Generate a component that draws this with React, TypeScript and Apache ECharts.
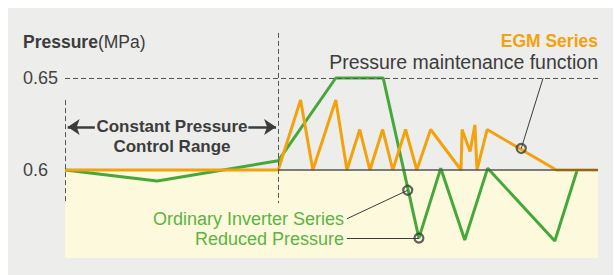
import React, { useEffect, useRef } from "react";
import * as echarts from "echarts";

// Time axis (arbitrary units 0..100) and pressure (MPa)
const egmTime = [0, 40, 44.2, 46.5, 50.8, 52.9, 55.3, 57.2, 59.6, 61.5, 63.9, 66.0, 68.6, 74.3, 74.5, 76.0, 76.9, 77.3, 79.2, 92.2, 100];
const egmPressure = [0.6, 0.6, 0.638, 0.6, 0.638, 0.6, 0.622, 0.6, 0.622, 0.6, 0.622, 0.6, 0.622, 0.6, 0.622, 0.61, 0.6245, 0.6, 0.622, 0.6, 0.6];
const invTime = [0, 17.3, 40, 50.8, 59.7, 66.4, 70.5, 75.0, 79.3, 91.9, 96.1];
const invPressure = [0.6, 0.594, 0.605, 0.65, 0.65, 0.563, 0.601, 0.562, 0.601, 0.5614, 0.6];
const yTickLabels = ["0.6", "0.65"];
const setPressure = 0.6;
const upperPressure = 0.65;
const rangeStart = 0;
const rangeEnd = 40;
const arrowLevel = 0.6234;
const zoneBottom = 0.5522;
const invMarkers = [[64.3, 0.589], [66.4, 0.563]];
const egmMarkers = [[85.6, 0.6117]];
const invLeaders = [
  [[52.9, 0.5735], [64.3, 0.589]],
  [[52.9, 0.563], [66.4, 0.563]],
];
const egmLeader = [[85.6, 0.6117], [89.7, 0.65]];

const ORANGE = "#f2a20c";
const GREEN = "#45a838";
const TEXT_GREEN = "#5bb443";
const DARK = "#3c3c3c";
const FONT = "'Liberation Sans', Arial, sans-serif";

function txt(text: string, x: number, y: number, size: number, fill: string, align: string, bold = false) {
  return {
    type: "text",
    x,
    y,
    z: 100,
    silent: true,
    style: {
      text,
      textAlign: align,
      textVerticalAlign: "middle",
      fontSize: size,
      fontWeight: bold ? "bold" : "normal",
      fontFamily: FONT,
      lineHeight: size,
      fill,
    },
  };
}

export default function App() {
  const ref = useRef<HTMLDivElement>(null);
  useEffect(() => {
    if (!ref.current) return;
    const chart = echarts.init(ref.current, undefined, { renderer: "svg" });
    const egmData = egmTime.map((t, i) => [t, egmPressure[i]]);
    const invData = invTime.map((t, i) => [t, invPressure[i]]);
    const dashed = { color: "#555", width: 1, type: [5, 3] as any };
    chart.setOption({
      animation: false,
      backgroundColor: "#ffffff",
      grid: { left: 65, right: 17, top: 32, bottom: 13 },
      xAxis: { type: "value", min: 0, max: 100, show: false },
      yAxis: {
        type: "value",
        min: 0.55,
        max: 0.675,
        interval: 0.05,
        axisLine: { show: false },
        axisTick: { show: false },
        splitLine: { show: false },
        axisLabel: {
          align: "left",
          margin: 42,
          fontSize: 18,
          fontFamily: FONT,
          color: "#444",
          showMaxLabel: false,
          formatter: (v: number) => {
            const s = String(Math.round(v * 100) / 100);
            return yTickLabels.includes(s) ? s : "";
          },
        },
      },
      graphic: [
        { type: "rect", z: -10, shape: { x: 8, y: 8, width: 605, height: 267 }, style: { fill: "#ededec" }, silent: true },
        {
          type: "text", x: 23, y: 42, z: 100,
          style: {
            text: "{b|Pressure}{n|(MPa)}", textVerticalAlign: "middle",
            rich: {
              b: { fontWeight: "bold", fontSize: 17.5, lineHeight: 18, fontFamily: FONT, fill: DARK, color: DARK },
              n: { fontSize: 17.5, lineHeight: 18, fontFamily: FONT, fill: DARK, color: DARK },
            },
          },
        },
        txt("EGM Series", 598, 40.5, 17.5, ORANGE, "right", true),
        txt("Pressure maintenance function", 598, 62.2, 19.5, DARK, "right"),
        txt("Constant Pressure", 172, 126.3, 17, DARK, "center", true),
        txt("Control Range", 172, 146.3, 17, DARK, "center", true),
        txt("Ordinary Inverter Series", 344, 218.5, 18, TEXT_GREEN, "right"),
        txt("Reduced Pressure", 344, 239, 18, TEXT_GREEN, "right"),
      ],
      series: [
        {
          type: "line",
          data: [],
          z: 1,
          markArea: {
            silent: true,
            itemStyle: { color: "#fdf9dc" },
            data: [[{ coord: [0, setPressure] }, { coord: [100, zoneBottom] }]],
          },
          markLine: {
            silent: true,
            symbol: "none",
            label: { show: false },
            data: [
              [{ coord: [0, upperPressure], lineStyle: dashed }, { coord: [100, upperPressure] }],
              [{ coord: [rangeStart, 0.638], lineStyle: dashed }, { coord: [rangeStart, 0.582] }],
              [{ coord: [rangeEnd, 0.6745], lineStyle: dashed }, { coord: [rangeEnd, 0.582] }],
              [{ coord: [rangeEnd, setPressure], lineStyle: { color: "#555", width: 1.5, type: "solid" } }, { coord: [100, setPressure] }],
            ],
          },
        },
        {
          type: "line",
          data: [],
          z: 2,
          markLine: {
            silent: true,
            label: { show: false },
            lineStyle: { color: DARK, width: 2.5, type: "solid" },
            symbolSize: [12, 12],
            data: [
              [{ coord: [rangeStart + 0.5, arrowLevel], symbol: "arrow" }, { coord: [5.6, arrowLevel], symbol: "none" }],
              [{ coord: [34.4, arrowLevel], symbol: "none" }, { coord: [rangeEnd - 0.4, arrowLevel], symbol: "arrow" }],
            ],
          },
        },
        {
          name: "Ordinary Inverter Series",
          type: "line",
          data: invData,
          z: 3,
          symbol: "none",
          lineStyle: { color: GREEN, width: 3 },
          markLine: {
            silent: true,
            symbol: "none",
            label: { show: false },
            lineStyle: { color: DARK, width: 1, type: "solid" },
            data: invLeaders.map(([a, b]) => [{ coord: a }, { coord: b }]),
          },
        },
        {
          name: "EGM Series",
          type: "line",
          data: egmData,
          z: 4,
          symbol: "none",
          lineStyle: { color: ORANGE, width: 3 },
          markLine: {
            silent: true,
            symbol: "none",
            label: { show: false },
            lineStyle: { color: DARK, width: 1, type: "solid" },
            data: [[{ coord: egmLeader[0] }, { coord: egmLeader[1] }]],
          },
        },
        {
          type: "scatter",
          z: 5,
          data: [...invMarkers, ...egmMarkers],
          symbol: "circle",
          symbolSize: 9,
          itemStyle: { color: "rgba(0,0,0,0)", borderColor: DARK, borderWidth: 2.2 },
        },
      ],
    });
    return () => chart.dispose();
  }, []);
  return (
    <div
      ref={ref}
      style={{ position: "fixed", left: 0, top: 0, width: 615, height: 275 }}
    />
  );
}
